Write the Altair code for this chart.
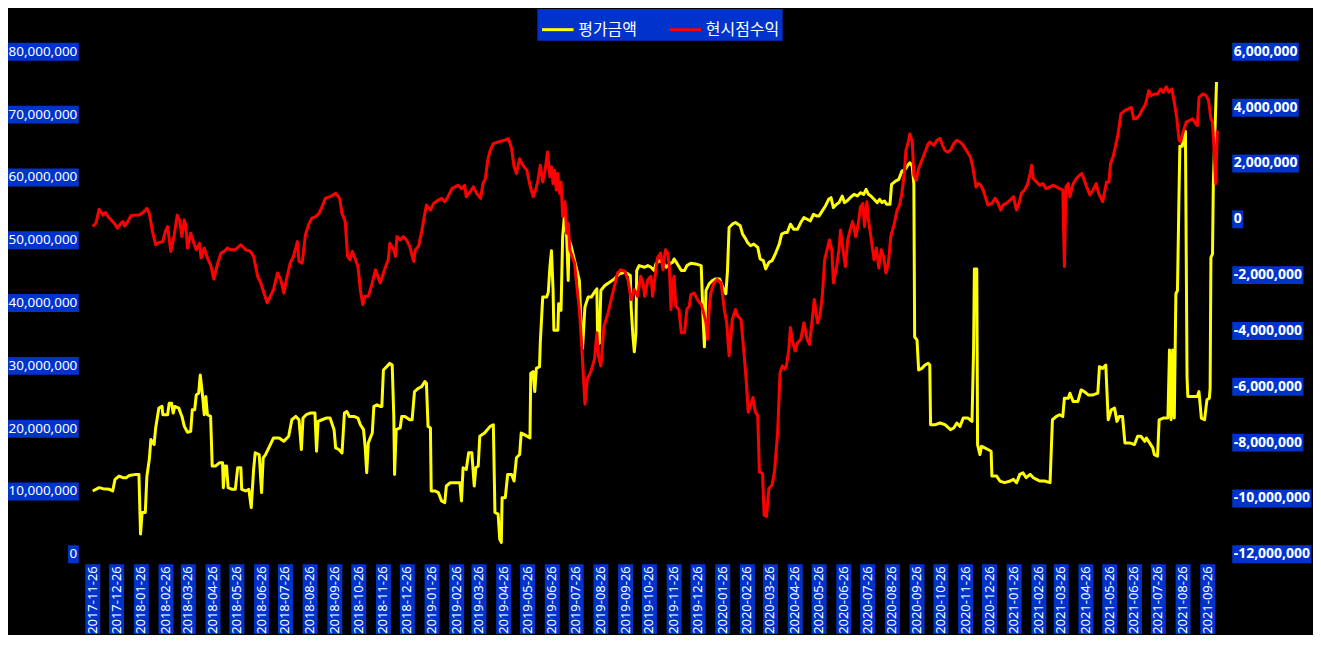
import altair as alt
import pandas as pd

START_DATE = "2017-11-26"
END_DATE = "2021-10-08"
SERIES = ["평가금액", "현시점수익"]

x_tick_labels = [
    "2017-11-26", "2017-12-26",
    "2018-01-26", "2018-02-26", "2018-03-26", "2018-04-26", "2018-05-26", "2018-06-26",
    "2018-07-26", "2018-08-26", "2018-09-26", "2018-10-26", "2018-11-26", "2018-12-26",
    "2019-01-26", "2019-02-26", "2019-03-26", "2019-04-26", "2019-05-26", "2019-06-26",
    "2019-07-26", "2019-08-26", "2019-09-26", "2019-10-26", "2019-11-26", "2019-12-26",
    "2020-01-26", "2020-02-26", "2020-03-26", "2020-04-26", "2020-05-26", "2020-06-26",
    "2020-07-26", "2020-08-26", "2020-09-26", "2020-10-26", "2020-11-26", "2020-12-26",
    "2021-01-26", "2021-02-26", "2021-03-26", "2021-04-26", "2021-05-26", "2021-06-26",
    "2021-07-26", "2021-08-26", "2021-09-26",
]
left_ticks = [0, 10000000, 20000000, 30000000, 40000000, 50000000, 60000000, 70000000, 80000000]
right_ticks = [-12000000, -10000000, -8000000, -6000000, -4000000, -2000000, 0, 2000000, 4000000, 6000000]

# (days since 2017-11-26, value in million won)
yellow_points = [
    (0, 10.08), (8, 10.61), (13, 10.45), (21, 10.34), (25, 10.08), (28, 11.93), (33, 12.45), (38, 12.19),
    (42, 12.19), (46, 12.56), (54, 12.72), (58, 12.72), (60, 3.22), (62, 6.65), (66, 6.65), (68, 12.45),
    (71, 15.09), (73, 18.26), (77, 17.47), (79, 20.11), (83, 23.27), (87, 23.54), (88, 22.22), (92, 22.22),
    (94, 22.22), (96, 24.06), (99, 24.06), (101, 22.48), (103, 23.54), (108, 23.27), (112, 21.95), (115, 20.37),
    (119, 19.42), (123, 19.58), (125, 23.01), (128, 23.01), (130, 25.38), (133, 25.65), (135, 28.55), (138, 25.12),
    (140, 22.22), (142, 25.12), (144, 22.22), (148, 21.95), (150, 14.04), (154, 14.04), (159, 14.56), (163, 14.56),
    (164, 10.61), (166, 14.04), (168, 14.04), (170, 10.61), (175, 10.34), (179, 10.34), (182, 13.77), (186, 13.77),
    (187, 10.34), (192, 10.08), (196, 10.34), (199, 7.44), (202, 13.51), (204, 16.15), (209, 15.88), (212, 9.82),
    (214, 15.36), (217, 15.88), (223, 17.47), (227, 18.52), (234, 18.52), (240, 17.99), (246, 18.79), (250, 21.42),
    (255, 21.95), (259, 21.42), (262, 16.68), (264, 21.69), (268, 22.22), (273, 22.48), (279, 22.48), (281, 16.41),
    (283, 21.16), (288, 21.42), (293, 21.69), (298, 21.69), (303, 19.84), (305, 16.94), (309, 16.68), (313, 16.15),
    (316, 22.48), (319, 22.74), (322, 21.95), (328, 21.95), (333, 21.69), (336, 20.63), (340, 19.84), (342, 17.20),
    (344, 12.98), (346, 17.73),
    (351, 19.31), (353, 23.54), (357, 23.80), (361, 23.54), (363, 23.54), (365, 29.34), (369, 29.87), (373, 30.40),
    (376, 30.13), (378, 21.95), (379, 12.72), (381, 19.84), (386, 20.11), (388, 21.95), (392, 21.95), (398, 21.42),
    (401, 21.42), (404, 25.91), (409, 26.44), (413, 26.70), (417, 27.49), (419, 27.23), (421, 20.37), (424, 20.11),
    (425, 10.08), (430, 10.08), (434, 9.82), (438, 8.50), (442, 8.23), (444, 10.87), (449, 11.40), (455, 11.40),
    (461, 11.40), (463, 8.50), (465, 13.77), (469, 13.51), (472, 16.15), (476, 16.15), (479, 10.87), (481, 13.77),
    (484, 14.04), (486, 18.79), (492, 19.31), (499, 20.37), (503, 20.63), (505, 6.65), (509, 6.39), (511, 2.43),
    (513, 1.90), (514, 9.02), (518, 9.02), (521, 12.72), (526, 12.72), (529, 11.66), (532, 15.36), (536, 15.88),
    (538, 19.31), (542, 19.05), (549, 18.52), (550, 28.81), (553, 29.08), (555, 25.91), (557, 29.60), (561, 29.87),
    (562, 33.83), (565, 40.95), (570, 40.95), (572, 41.74), (574, 45.70), (576, 48.34), (578, 42.01), (579, 35.67),
    (584, 35.67), (585, 39.89), (588, 38.84), (590, 50.45), (592, 53.61), (595, 50.98), (597, 43.59), (598, 49.92),
    (600, 49.39), (602, 48.34), (605, 46.75), (608, 45.17), (611, 43.59), (613, 36.73), (615, 32.77), (618, 39.37),
    (622, 40.95), (626, 40.95), (630, 41.74), (633, 42.27), (634, 33.56), (636, 33.56), (638, 42.01), (643, 42.80),
    (649, 43.32), (655, 43.85), (661, 44.64), (668, 44.91), (672, 44.64), (675, 44.38), (676, 39.37), (678, 35.15),
    (680, 32.24), (682, 35.15), (683, 45.17), (686, 45.96), (693, 45.70), (697, 45.96),
    (701, 45.70), (705, 45.17), (707, 46.23), (711, 46.75), (716, 46.49), (720, 45.70), (724, 46.23), (728, 46.49),
    (730, 47.02), (734, 46.23), (739, 45.17), (743, 45.17), (746, 45.96), (751, 46.33), (757, 46.23), (764, 45.96),
    (766, 38.84), (768, 33.03), (770, 42.01), (774, 43.06), (778, 43.59), (782, 43.85), (787, 43.85), (791, 42.53),
    (795, 41.48), (797, 45.17), (799, 52.03), (803, 52.56), (807, 52.82), (813, 52.30), (816, 50.98), (820, 50.18),
    (822, 49.66), (826, 49.13), (830, 49.39), (835, 48.87), (838, 47.02), (842, 46.75), (845, 45.44), (849, 46.49),
    (853, 46.75), (857, 47.81), (862, 49.39), (865, 50.98), (869, 51.24), (872, 51.24), (876, 52.56), (880, 51.77),
    (885, 51.77), (889, 52.82), (893, 53.61), (897, 53.35), (901, 53.09), (905, 54.14), (909, 53.88), (912, 53.88),
    (916, 54.67), (920, 55.46), (924, 56.52), (927, 56.78), (930, 55.20), (934, 55.73), (937, 55.99), (941, 57.04),
    (944, 55.99), (947, 56.25), (951, 56.78), (956, 57.31), (960, 57.04), (964, 57.57), (968, 57.31), (971, 58.10),
    (974, 57.31), (977, 57.04), (981, 56.52), (985, 55.99), (988, 56.52), (991, 55.99), (994, 56.25), (997, 55.73),
    (1001, 55.73), (1003, 58.89), (1008, 59.42), (1012, 59.68), (1016, 61.00), (1020, 61.27), (1024, 62.06),
    (1026, 62.32), (1029, 61.79), (1031, 58.89), (1032, 34.62), (1035, 34.09), (1037, 29.34), (1041, 29.60),
    (1045, 30.13), (1049, 30.40), (1051, 30.13),
    (1052, 20.63), (1058, 20.63), (1064, 20.90), (1070, 20.63), (1077, 19.84), (1081, 20.11), (1085, 20.90),
    (1089, 20.37), (1093, 21.69), (1099, 21.69), (1104, 21.16), (1106, 32.51), (1107, 45.44), (1110, 45.44),
    (1111, 17.47), (1114, 15.88), (1116, 17.20), (1120, 16.94), (1124, 16.68), (1128, 16.41), (1129, 12.45),
    (1135, 12.45), (1139, 11.66), (1145, 11.40), (1152, 11.66), (1156, 11.93), (1160, 11.40), (1164, 12.72),
    (1168, 12.98), (1172, 12.19), (1177, 12.72), (1181, 12.19), (1185, 11.93), (1189, 11.66), (1195, 11.66),
    (1202, 11.40), (1205, 21.42), (1210, 21.95), (1214, 22.22), (1218, 21.95), (1220, 24.85), (1225, 24.85),
    (1227, 25.65), (1231, 24.33), (1237, 24.33), (1241, 26.17), (1245, 25.91), (1250, 25.38), (1256, 25.38),
    (1262, 25.65), (1264, 29.87), (1268, 29.60), (1272, 30.13), (1275, 21.42), (1279, 23.01), (1283, 23.27),
    (1286, 21.16), (1289, 21.95), (1293, 21.95), (1296, 17.73), (1302, 17.73), (1308, 17.47), (1312, 18.79),
    (1316, 18.79), (1321, 17.99), (1323, 18.52), (1327, 17.73), (1331, 16.94), (1333, 15.88), (1337, 15.62),
    (1339, 21.42), (1344, 21.69), (1350, 21.69), (1352, 32.51), (1354, 21.42), (1356, 32.51), (1358, 21.69),
    (1360, 41.48), (1362, 42.01), (1364, 57.84), (1365, 64.96), (1368, 64.96), (1369, 66.28), (1372, 67.34),
    (1374, 28.28), (1375, 25.12), (1381, 25.12), (1387, 25.12), (1389, 25.91), (1392, 21.69), (1396, 21.42),
    (1399, 24.59), (1402, 24.85), (1403, 26.44), (1404, 47.28), (1406, 47.81), (1407, 58.89), (1411, 75.20),
]

red_points = [
    (0, -0.26), (4, -0.14), (8, 0.36), (13, 0.15), (16, 0.24), (19, 0.10), (23, -0.02), (27, -0.14),
    (31, -0.32), (36, -0.12), (38, -0.08), (40, -0.24), (44, -0.08), (48, 0.13), (52, 0.15), (58, 0.15),
    (63, 0.24), (68, 0.39), (71, 0.21), (75, -0.44), (79, -0.91), (83, -0.83), (88, -0.80), (91, -0.44),
    (94, -0.26), (98, -1.15), (102, -0.62), (106, 0.15), (109, -0.02), (112, -0.62), (115, -0.02), (117, -0.26),
    (119, -1.03), (123, -0.50), (127, -0.86), (130, -1.09), (134, -0.86), (136, -1.39), (140, -1.03), (144, -1.39),
    (148, -1.63), (152, -2.14), (157, -1.57), (161, -1.21), (165, -1.15), (169, -1.03), (173, -1.09), (179, -1.09),
    (186, -0.91), (192, -1.09), (198, -1.15), (202, -1.33), (207, -2.04), (211, -2.28), (215, -2.64), (219, -2.99),
    (223, -2.76), (227, -2.52), (232, -1.92), (236, -2.16), (240, -2.64), (244, -2.04), (248, -1.57), (252, -1.33),
    (257, -0.80), (259, -1.51), (263, -1.57), (267, -0.56), (271, -0.20), (275, 0.04), (280, 0.10), (284, 0.21),
    (288, 0.45), (292, 0.75), (298, 0.81), (305, 0.93), (310, 0.75), (313, 0.21), (317, -0.08), (320, -1.33),
    (323, -1.45), (326, -1.15), (330, -1.45), (333, -1.69), (336, -2.52), (339, -3.05), (342, -2.76), (346, -2.76),
    (351, -2.28), (355, -1.81), (361, -2.28), (367, -1.75), (371, -1.45), (373, -0.86), (378, -1.09), (380, -1.33),
    (382, -0.62), (386, -0.74), (390, -0.62), (394, -0.74), (398, -0.97), (403, -1.51), (405, -1.09), (409, -0.97),
    (413, -0.44), (417, 0.21), (419, 0.51), (424, 0.33), (428, 0.57), (434, 0.69), (438, 0.75), (442, 0.63),
    (446, 0.81), (451, 1.10), (455, 1.16), (459, 1.22), (463, 1.10), (467, 1.22), (469, 0.81), (474, 0.99),
    (478, 1.16), (482, 0.93), (487, 0.75), (490, 1.28), (493, 1.46), (496, 2.11), (499, 2.47), (503, 2.71),
    (509, 2.77), (513, 2.80), (517, 2.83), (522, 2.89), (524, 2.71), (526, 2.53), (529, 1.88), (532, 1.64),
    (536, 2.17), (540, 1.94), (545, 1.76), (549, 1.22), (553, 0.81), (556, 1.05), (559, 1.40), (562, 1.94),
    (565, 1.34), (568, 1.76), (571, 2.41), (574, 1.52), (576, 1.88), (578, 1.28), (580, 1.76), (582, 1.05),
    (584, 1.64), (586, 0.93), (588, 1.34), (590, 0.10), (593, 0.63), (595, -0.50), (597, -0.14), (599, -1.09),
    (602, -1.33), (605, -1.57), (607, -2.16), (611, -3.23), (614, -4.54), (618, -6.62), (621, -5.72), (625, -5.49),
    (630, -5.01), (633, -4.06), (635, -4.89), (638, -5.25), (642, -3.82), (647, -3.35), (651, -2.87), (656, -2.28),
    (659, -1.92), (663, -1.81), (668, -1.86), (672, -2.16), (676, -2.87), (680, -2.52), (684, -2.76), (688, -2.04),
    (691, -2.28), (693, -2.76), (697, -2.16),
    (701, -2.04), (703, -2.76), (706, -2.04), (709, -1.39), (713, -1.21), (716, -1.81), (719, -1.09), (722, -1.21),
    (724, -1.69), (726, -3.23), (728, -2.28), (730, -2.04), (732, -3.11), (736, -3.23), (739, -4.06), (743, -4.06),
    (746, -3.23), (749, -3.11), (751, -2.70), (755, -2.64), (759, -2.87), (764, -3.05), (767, -3.35), (770, -3.71),
    (772, -4.30), (774, -3.23), (776, -2.64), (780, -2.28), (784, -2.16), (789, -2.28), (793, -3.23), (796, -3.71),
    (799, -4.89), (801, -4.30), (803, -3.59), (807, -3.23), (810, -3.47), (814, -3.59), (818, -4.89), (821, -5.96),
    (823, -6.91), (826, -6.67), (829, -6.38), (832, -6.91), (835, -7.03), (837, -9.05), (841, -9.11), (843, -10.59),
    (846, -10.65), (849, -9.64), (853, -9.52), (856, -9.05), (860, -7.62), (863, -5.49), (866, -5.25), (869, -5.37),
    (871, -5.25), (874, -4.66), (876, -3.88), (879, -4.42), (882, -4.72), (885, -4.42), (889, -4.30), (893, -3.71),
    (897, -4.30), (900, -4.48), (903, -3.71), (906, -2.87), (910, -3.71), (913, -3.47), (916, -2.76), (919, -1.45),
    (922, -1.09), (925, -0.74), (928, -1.09), (930, -2.28), (934, -1.69), (937, -1.09), (939, -0.38), (942, -1.09),
    (945, -1.69), (948, -0.74), (951, -0.38), (954, -0.08), (958, -0.62), (961, -0.20), (964, 0.45), (967, 0.57),
    (969, -0.26), (972, 0.63), (974, -0.02), (977, -0.62), (981, -1.45), (984, -1.03), (987, -1.75), (990, -1.09),
    (993, -1.33), (996, -1.92), (999, -1.57), (1002, -0.62), (1006, -0.20), (1010, 0.33), (1013, 0.51),
    (1016, 0.93), (1019, 1.64), (1021, 2.47), (1024, 2.77), (1026, 3.06), (1029, 2.77), (1031, 1.58),
    (1034, 1.40), (1037, 1.82), (1041, 2.11), (1045, 2.41), (1049, 2.71),
    (1051, 2.77), (1056, 2.65), (1060, 2.83), (1064, 2.89), (1067, 2.65), (1070, 2.47), (1073, 2.41),
    (1077, 2.47), (1081, 2.71), (1085, 2.83), (1089, 2.77), (1093, 2.65), (1097, 2.47), (1102, 2.23),
    (1105, 1.88), (1107, 1.52), (1109, 1.16), (1112, 1.28), (1115, 1.22), (1118, 1.05), (1122, 0.69),
    (1124, 0.51), (1129, 0.57), (1133, 0.75), (1137, 0.57), (1140, 0.33), (1143, 0.51), (1147, 0.57),
    (1152, 0.69), (1156, 0.81), (1160, 0.33), (1163, 0.57), (1166, 0.93), (1170, 1.05), (1174, 1.28),
    (1177, 1.64), (1179, 1.94), (1181, 1.46), (1185, 1.34), (1189, 1.22), (1193, 1.28), (1197, 1.10),
    (1202, 1.16), (1206, 1.22), (1210, 1.16), (1214, 1.10), (1218, 1.05), (1220, -1.69), (1222, 1.16),
    (1225, 1.28), (1227, 0.81), (1231, 1.28), (1235, 1.46), (1239, 1.58), (1242, 1.64), (1245, 1.40),
    (1248, 1.16), (1252, 0.87), (1256, 1.05), (1260, 1.28), (1263, 0.93), (1268, 0.63), (1271, 1.05),
    (1273, 1.34), (1276, 1.34), (1278, 2.00), (1281, 2.23), (1284, 2.59), (1287, 3.00), (1289, 3.36),
    (1291, 3.78), (1296, 3.90), (1300, 3.95), (1304, 4.01), (1307, 3.60), (1310, 3.60), (1314, 3.72),
    (1318, 3.95), (1321, 4.07), (1323, 4.25), (1326, 4.61), (1329, 4.43), (1333, 4.49), (1337, 4.49),
    (1341, 4.67), (1344, 4.55), (1348, 4.75), (1351, 4.55), (1355, 4.67), (1358, 4.19), (1361, 3.66),
    (1364, 2.83), (1366, 2.77), (1369, 3.12), (1373, 3.48), (1377, 3.54), (1381, 3.60), (1385, 3.42),
    (1387, 3.36), (1389, 4.37), (1394, 4.49), (1398, 4.43), (1401, 4.25), (1404, 3.60), (1406, 3.48),
    (1408, 2.47), (1410, 1.28), (1412, 3.18),
]

# ---------------------------------------------------------------- styling
W, H = 1128, 504
BLUE = "#0033cc"
GREY = "#a6a6a6"
GRID = "#c8c8c8"
FONT = "Noto Sans"
KFONT = "Noto Sans CJK KR"

start = pd.Timestamp(START_DATE)


def series_frame(points, name):
    return pd.DataFrame({
        "date": start + pd.to_timedelta([p[0] for p in points], unit="D"),
        "value": [p[1] * 1_000_000 for p in points],
        "series": name,
    })


def dt(s):
    y, m, d = (int(t) for t in s.split("-"))
    return alt.DateTime(year=y, month=m, date=d)


def text_width(s, digit, comma, minus):
    return sum(digit if c.isdigit() else comma if c == "," else minus for c in s)


yellow_df = series_frame(yellow_points, SERIES[0])
red_df = series_frame(red_points, SERIES[1])

left_lab = pd.DataFrame({"value": left_ticks, "text": [f"{v:,}" for v in left_ticks]})
left_lab["w"] = left_lab["text"].map(lambda s: text_width(s, 7.72, 3.5, 4.4) + 3)
left_lab["xc"] = -14 - left_lab["w"] / 2

right_lab = pd.DataFrame({"value": right_ticks, "text": [f"{v:,}" for v in right_ticks]})
right_lab["w"] = right_lab["text"].map(lambda s: text_width(s, 8.0, 3.9, 4.6) + 3)
right_lab["xc"] = W + 15 + right_lab["w"] / 2

x_lab = pd.DataFrame({"date": pd.to_datetime(x_tick_labels), "label": x_tick_labels})

x_scale = alt.Scale(domain=[dt(START_DATE), dt(END_DATE)], nice=False)
yl_scale = alt.Scale(domain=[0, 80000000], nice=False, zero=False)
yr_scale = alt.Scale(domain=[-12000000, 6000000], nice=False, zero=False)
color_scale = alt.Scale(domain=SERIES, range=["#ffff00", "#ff0000"])

legend = alt.Legend(
    title=None, orient="none", direction="horizontal", legendX=446, legendY=-43,
    fillColor=BLUE, padding=3, symbolType="stroke", symbolSize=1000, symbolStrokeWidth=3,
    labelColor="white", labelFont=KFONT, labelFontSize=16, labelOffset=3, columnPadding=26,
)

x_axis = alt.Axis(
    values=[dt(s) for s in x_tick_labels], labels=False, ticks=True, tickSize=5,
    tickColor=GREY, domainColor=GREY, grid=False, title=None,
)
yl_axis = alt.Axis(
    orient="left", values=left_ticks, labels=False, tickSize=5, tickColor=GREY,
    domainColor=GREY, grid=True, gridColor=GRID, gridDash=[3, 2], gridWidth=1, title=None,
)
yr_axis = alt.Axis(
    orient="right", values=right_ticks, labels=False, tickSize=5, tickColor=GREY,
    domainColor=GREY, grid=False, title=None,
)

yellow_line = alt.Chart(yellow_df).mark_line(strokeWidth=3, strokeJoin="round").encode(
    x=alt.X("date:T", scale=x_scale, axis=x_axis),
    y=alt.Y("value:Q", scale=yl_scale, axis=yl_axis),
    color=alt.Color("series:N", scale=color_scale, legend=legend),
)
red_line = alt.Chart(red_df).mark_line(strokeWidth=3, strokeJoin="round").encode(
    x=alt.X("date:T", scale=x_scale, axis=None),
    y=alt.Y("value:Q", scale=yr_scale, axis=yr_axis),
    color=alt.Color("series:N", scale=color_scale, legend=legend),
)

left_box = alt.Chart(left_lab).mark_tick(orient="horizontal", thickness=18, color=BLUE, opacity=1).encode(
    x=alt.X("xc:Q", scale=None, axis=None),
    y=alt.Y("value:Q", scale=yl_scale, axis=None),
    size=alt.Size("w:Q", scale=None, legend=None),
)
left_txt = alt.Chart(left_lab).mark_text(align="right", baseline="middle", color="white", font=FONT,
                                         fontSize=13.5).encode(
    x=alt.value(-15.5),
    y=alt.Y("value:Q", scale=yl_scale, axis=None),
    text="text:N",
)
right_box = alt.Chart(right_lab).mark_tick(orient="horizontal", thickness=18, color=BLUE, opacity=1).encode(
    x=alt.X("xc:Q", scale=None, axis=None),
    y=alt.Y("value:Q", scale=yr_scale, axis=None),
    size=alt.Size("w:Q", scale=None, legend=None),
)
right_txt = alt.Chart(right_lab).mark_text(align="left", baseline="middle", color="white", font=FONT,
                                           fontSize=14, fontWeight="bold").encode(
    x=alt.value(W + 16.5),
    y=alt.Y("value:Q", scale=yr_scale, axis=None),
    text="text:N",
)
x_box = alt.Chart(x_lab).mark_tick(orient="vertical", thickness=15, color=BLUE, opacity=1).encode(
    x=alt.X("date:T", scale=x_scale, axis=None),
    y=alt.value(H + 45),
    size=alt.value(70),
)
x_txt = alt.Chart(x_lab).mark_text(angle=270, align="right", baseline="middle", color="white",
                                   font=FONT, fontSize=13).encode(
    x=alt.X("date:T", scale=x_scale, axis=None),
    y=alt.value(H + 12),
    text="label:N",
)

left_group = alt.layer(yellow_line, left_box, left_txt)
right_group = alt.layer(red_line, right_box, right_txt)

chart = (
    alt.layer(left_group, right_group, x_box, x_txt)
    .resolve_scale(y="independent")
    .properties(
        width=W, height=H,
        autosize=alt.AutoSizeParams(type="none"),
        padding={"left": 85, "top": 43, "right": 96, "bottom": 80},
    )
    .configure(background="black")
    .configure_view(strokeWidth=0)
)

chart.save("out.html", embed_options={"renderer": "svg", "actions": False})
